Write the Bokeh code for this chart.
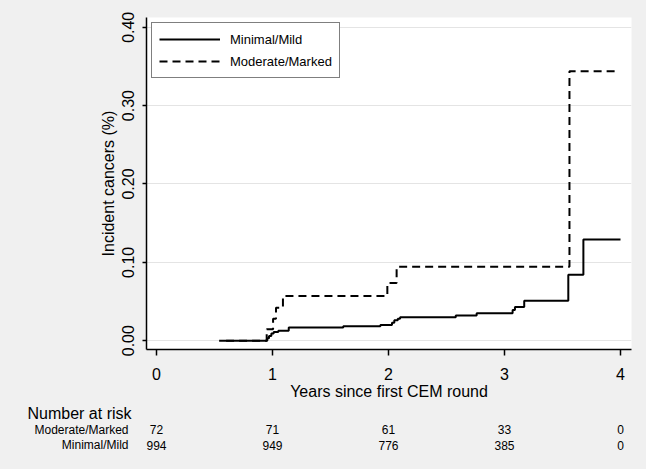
from bokeh.plotting import figure
from bokeh.layouts import column
from bokeh.models import Legend, LegendItem, FixedTicker, NumeralTickFormatter, Range1d, ColumnDataSource
from bokeh.core.properties import value
from bokeh.embed import file_html
from bokeh.resources import INLINE

# Kaplan-Meier style cumulative incidence
mild_t = [0.54, 0.955, 0.97, 0.99, 1.01, 1.05, 1.14, 1.61, 1.93, 2.03, 2.05, 2.08, 2.10,
          2.58, 2.76, 3.07, 3.09, 3.17, 3.55, 3.68, 4.00]
mild_v = [0.0, 0.003, 0.006, 0.009, 0.011, 0.0125, 0.0167, 0.0184, 0.020, 0.023, 0.026, 0.028, 0.030,
          0.032, 0.035, 0.039, 0.043, 0.051, 0.084, 0.129, 0.129]
mod_t = [0.60, 0.95, 1.005, 1.03, 1.09, 1.99, 2.07, 3.56, 3.96]
mod_v = [0.0, 0.0146, 0.028, 0.042, 0.057, 0.0735, 0.0944, 0.344, 0.344]

risk_times = [0, 1, 2, 3, 4]
risk_mod = [72, 71, 61, 33, 0]
risk_mild = [994, 949, 776, 385, 0]
risk_groups = ["Moderate/Marked", "Minimal/Mild"]

x_ticks = [0, 1, 2, 3, 4]
y_ticks = [0.0, 0.1, 0.2, 0.3, 0.4]

FONT = "Liberation Sans"
BG = "#f0f0f0"
W = 646
H_MAIN = 402
H_TAB = 67

p = figure(width=W, height=H_MAIN, output_backend="svg", toolbar_location=None,
           x_range=Range1d(-0.0862, 4.0948), y_range=Range1d(-0.0113, 0.4125),
           min_border_left=146, min_border_right=15, min_border_top=17, min_border_bottom=47)
p.frame_align = False
p.background_fill_color = "white"
p.border_fill_color = BG
p.outline_line_color = None

r_mod = p.step(mod_t, mod_v, mode="after", line_color="black", line_width=2, line_dash="8 5")
r_mild = p.step(mild_t, mild_v, mode="after", line_color="black", line_width=2)

# axes
p.xaxis.ticker = FixedTicker(ticks=x_ticks)
p.yaxis.ticker = FixedTicker(ticks=y_ticks)
p.yaxis.formatter = NumeralTickFormatter(format="0.00")
p.yaxis.major_label_orientation = "vertical"
for ax in (p.xaxis, p.yaxis):
    ax.axis_line_color = "black"
    ax.axis_line_width = 1.5
    ax.major_tick_line_color = "black"
    ax.major_tick_line_width = 1.5
    ax.major_tick_in = 0
    ax.minor_tick_line_color = None
    ax.major_label_text_font = FONT
    ax.major_label_text_font_size = "16px"
    ax.major_label_text_color = "black"
    ax.axis_label_text_font = FONT
    ax.axis_label_text_font_size = "16px"
    ax.axis_label_text_font_style = "normal"
    ax.axis_label_text_color = "black"
p.xaxis.major_tick_out = 6
p.yaxis.major_tick_out = 4
p.xaxis.major_label_standoff = 12
p.yaxis.major_label_standoff = 8
p.xaxis.axis_label = "Years since first CEM round"
p.yaxis.axis_label = "Incident cancers (%)"
p.xaxis.axis_label_standoff = 0
p.yaxis.axis_label_standoff = 3

p.xgrid.visible = False
p.ygrid.ticker = FixedTicker(ticks=y_ticks)
p.ygrid.grid_line_color = "#e4e4e4"
p.ygrid.grid_line_width = 1.2

legend = Legend(items=[LegendItem(label="Minimal/Mild", renderers=[r_mild]),
                       LegendItem(label="Moderate/Marked", renderers=[r_mod])],
                location="top_left", margin=5)
legend.border_line_color = "black"
legend.border_line_width = 1.5
legend.background_fill_color = "white"
legend.background_fill_alpha = 1
legend.label_text_font = FONT
legend.label_text_font_size = "13px"
legend.label_text_color = "black"
legend.glyph_width = 61
legend.glyph_height = 18
legend.label_height = 18
legend.spacing = 4
legend.padding = 7
legend.label_standoff = 10
p.add_layout(legend)

# Number at risk table: a second figure using the same x scale (0 at px 156, 116 px/year)
t = figure(width=W, height=H_TAB, output_backend="svg", toolbar_location=None,
           x_range=Range1d(-156 / 116, (W - 156) / 116), y_range=Range1d(H_TAB, 0),
           min_border=0, min_border_left=0, min_border_right=0, min_border_top=0, min_border_bottom=0)
t.frame_align = False
t.axis.visible = False
t.grid.visible = False
t.outline_line_color = None
t.background_fill_color = BG
t.border_fill_color = BG

t.text(x=[-1.112], y=[11], text=["Number at risk"], text_font=value(FONT), text_font_size="16px",
       text_color="black", text_align="left", text_baseline="middle")
row_y = [27, 42.5]
t.text(x=[-0.241] * 2, y=row_y, text=risk_groups, text_font=value(FONT), text_font_size="12px",
       text_color="black", text_align="right", text_baseline="middle")
for gy, counts in zip(row_y, [risk_mod, risk_mild]):
    src = ColumnDataSource(dict(x=risk_times, y=[gy] * len(risk_times), n=[str(c) for c in counts]))
    t.text(x="x", y="y", text="n", source=src, text_font=value(FONT), text_font_size="12px",
           text_color="black", text_align="center", text_baseline="middle")

layout = column(p, t, spacing=0)
open("out.html", "w").write(file_html(layout, INLINE).replace("<head>", "<head><style>body{background:#f0f0f0}</style>", 1))
